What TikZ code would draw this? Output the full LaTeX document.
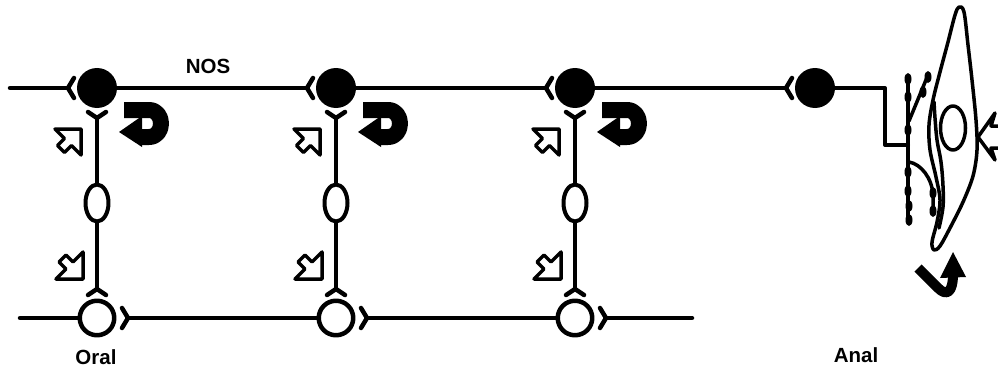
\documentclass[tikz,border=0pt]{standalone}
\usepackage{fontspec}
\setmainfont{Liberation Sans}
\usetikzlibrary{shapes.geometric}
\begin{document}
\begin{tikzpicture}[x=1pt,y=-1pt, line join=round, line cap=round,
  ln/.style={line width=4.5pt},
  fib/.style={line width=3.5pt},
  nos/.style={circle, fill=black, minimum size=40pt, inner sep=0pt, outer sep=0pt},
  asc/.style={circle, draw, line width=4.5pt, minimum size=34.5pt, inner sep=0pt},
  inter/.style={ellipse, draw, line width=4pt, minimum width=23pt, minimum height=37pt, inner sep=0pt},
  lbl/.style={font=\bfseries\fontsize{20.5}{20.5}\selectfont, inner sep=0pt},
  hollow/.style={line width=3.5pt, fill=white},
  bead/.style={fill=black},
]
\clip (0,0) rectangle (998,369);
\fill[white] (0,0) rectangle (998,369);

% three interneuron columns
\foreach \c/\i in {97/1,336/2,575/3}{
  \node[nos] (n\i) at (\c,88) {};
  \node[inter] (e\i) at (\c,203) {};
  \node[asc] (a\i) at (\c,318) {};
  % fork before NOS soma (descending input)
  \coordinate (ft\i) at (\c-29,88);
  \draw[ln] (\c-23,78) -- (ft\i) -- (\c-23,98);
  % fork below NOS soma
  \coordinate (fu\i) at (\c,118);
  \draw[ln] (\c-9,112) -- (fu\i) -- (\c+9,112);
  \draw[ln] (fu\i) -- (e\i.north);
  % fork above ascending soma
  \coordinate (fd\i) at (\c,289);
  \draw[ln] (\c-9,295) -- (fd\i) -- (\c+9,295);
  \draw[ln] (e\i.south) -- (fd\i);
  % fork right of ascending soma
  \coordinate (fr\i) at (\c+31,318);
  \draw[ln] (\c+25,308) -- (fr\i) -- (\c+25,328);
  % hollow arrows
  \draw[hollow] (\c-16,129) -- (\c-42,129) -- (\c-32.5,138.5) -- (\c-39.5,145.5)
     -- (\c-32.5,152.5) -- (\c-25.5,145.5) -- (\c-16,155) -- cycle;
  \draw[hollow] (\c-14,279) -- (\c-41,279) -- (\c-31,269) -- (\c-38,262)
     -- (\c-31,255) -- (\c-24,262) -- (\c-14,252) -- cycle;
  % U-turn arrow
  \draw[line width=16pt, line cap=butt] (\c+27,110) -- (\c+52,110)
     .. controls (\c+68,110) and (\c+68,137) .. (\c+52,137) -- (\c+42,137);
  \fill (\c+22,132) -- (\c+45,116) -- (\c+45,147) -- cycle;
}

% fourth NOS neuron
\node[nos] (n4) at (815,88) {};
\coordinate (ft4) at (786,88);
\draw[ln] (792,78) -- (ft4) -- (792,98);

% top (descending) chain
\coordinate (tstart) at (10,88);
\draw[ln] (tstart) -- (ft1);
\draw[ln] (n1) -- (ft2);
\draw[ln] (n2) -- (ft3);
\draw[ln] (n3) -- (ft4);

% bottom (ascending) chain
\coordinate (bstart) at (20,318);
\coordinate (bend) at (692,318);
\draw[ln] (bstart) -- (a1);
\draw[ln] (fr1) -- (a2);
\draw[ln] (fr2) -- (a3);
\draw[ln] (fr3) -- (bend);

% route to the muscle
\coordinate (k1) at (885,88);
\coordinate (k2) at (885,145);
\coordinate (fibj) at (908,145);
\draw[line width=4pt] (n4) -- (k1) -- (k2) -- (fibj);

% varicose fibres
\draw[fib] (908,78) -- (908,221);
\draw[fib] (909,121) -- (928,75);
\draw[fib] (909,162) .. controls (921,164) and (932,178) .. (933,195) -- (933,212);
\foreach \p in {(908,79),(908,97),(908,130),(908,172),(908,191),(909,206),(909,220),
                (928,77),(923,92),(933,193),(933,211)}{
  \fill[bead] \p ellipse [x radius=3.5pt, y radius=6pt];
}

% smooth muscle cell
\draw[line width=3.5pt] plot[smooth cycle, tension=0.55] coordinates {
  (959,7) (964,12) (968,45) (972,80) (976,120) (977,150) (973,176) (963,202)
  (950,228) (940,246) (934,250) (932,242) (937,222) (940,200) (936,177)
  (930,150) (929,125) (933,100) (940,72) (948,42) (955,15)};
\draw[line width=3.5pt] plot[smooth, tension=0.6] coordinates {
  (934,102) (935,118) (937,140) (941,162) (943,186) (943,207) (939,228)};
\node[ellipse, draw, line width=3.5pt, minimum width=25pt, minimum height=44pt, inner sep=0pt] (nuc) at (953,128) {};

% stretch arrow on the right
\draw[hollow] (978,137) -- (995,113) -- (991,126) -- (1010,126) -- (1010,148)
   -- (991,148) -- (995,160) -- cycle;

% contraction arrow under the cell
\draw[line width=10pt, line cap=butt] (918,268) -- (938,288)
   .. controls (947,297) and (953,292) .. (953,274);
\fill (953,252) -- (966,277) -- (940,278) -- cycle;

% labels
\node[lbl] (nos) at (208,66) {NOS};
\node[lbl] (oral) at (96,357) {Oral};
\node[lbl] (anal) at (856,355) {Anal};
\end{tikzpicture}
\end{document}
